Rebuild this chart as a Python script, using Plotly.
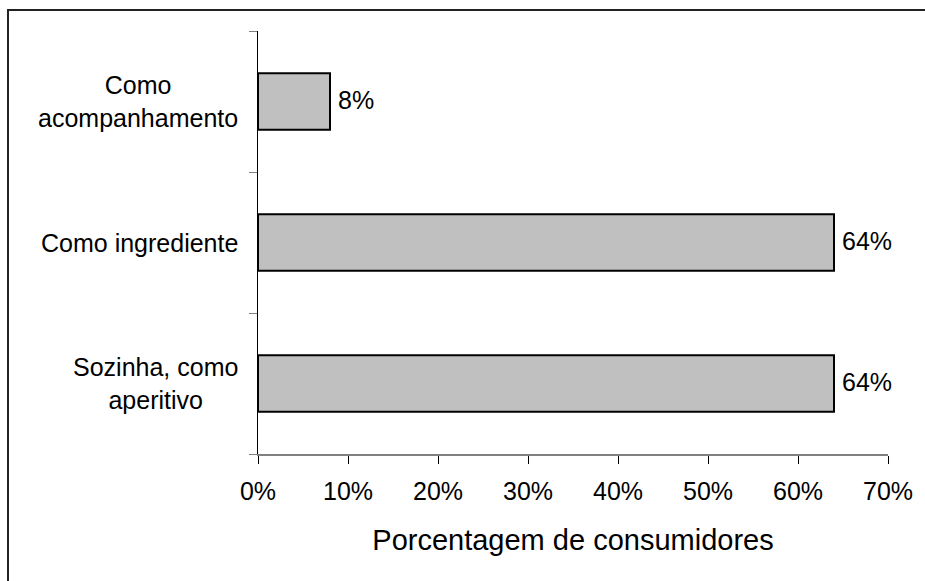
import plotly.graph_objects as go

# Uses of the product, listed bottom to top as they appear on the axis
categories = ["Sozinha, como aperitivo", "Como ingrediente", "Como acompanhamento"]
category_labels = ["Sozinha, como<br>aperitivo", "Como ingrediente", "Como<br>acompanhamento"]
values = [64, 64, 8]
x_ticks = [0, 10, 20, 30, 40, 50, 60, 70]
x_tick_labels = [f"{t}%" for t in x_ticks]

FONT = "Liberation Sans, Arial, sans-serif"
W, H = 925, 581
ML, MR, MT, MB = 258, 37, 31, 127
PW, PH = W - ML - MR, H - MT - MB

fig = go.Figure(
    go.Bar(
        x=values,
        y=categories,
        orientation="h",
        width=0.4,
        marker=dict(color="#c0c0c0", line=dict(color="black", width=2)),
        hoverinfo="skip",
    )
)

# Value labels just past the end of each bar
for cat, v in zip(categories, values):
    fig.add_annotation(
        x=v, xref="x", y=cat, yref="y", text=f"{v}%", showarrow=False,
        xanchor="left", xshift=6, yshift=2,
        font=dict(family=FONT, size=25, color="black"),
    )

# Category names, centred line by line to the left of the axis
for cat, lab in zip(categories, category_labels):
    fig.add_annotation(
        x=-18 / PW, xref="paper", y=cat, yref="y",
        text=lab, showarrow=False, xanchor="right", align="center",
        font=dict(family=FONT, size=25, color="black"),
    )

# Outer frame around the chart area
fig.add_shape(
    type="rect", xref="paper", yref="paper",
    x0=(8 - ML) / PW, x1=(W + 20 - ML) / PW,
    y0=-(H + 20 - MT - PH) / PH, y1=(H - MB - 10) / PH,
    line=dict(color="#222222", width=2), fillcolor="rgba(0,0,0,0)",
)

fig.update_layout(
    width=W, height=H,
    margin=dict(l=ML, r=MR, t=MT, b=MB),
    paper_bgcolor="white", plot_bgcolor="white",
    showlegend=False,
    font=dict(family=FONT, color="black"),
    xaxis=dict(
        range=[0, 70], tickvals=x_ticks, ticktext=x_tick_labels,
        showgrid=False, zeroline=False,
        showline=True, linecolor="#808080", linewidth=2,
        ticks="outside", ticklen=8, tickcolor="black", tickwidth=1,
        ticklabelstandoff=6,
        tickfont=dict(family=FONT, size=25, color="black"),
        title=dict(text="Porcentagem de consumidores", standoff=26,
                   font=dict(family=FONT, size=29, color="black")),
        fixedrange=True,
    ),
    yaxis=dict(
        type="category", categoryorder="array", categoryarray=categories,
        range=[-0.5, 2.5], showticklabels=False, tickson="boundaries",
        showgrid=False, zeroline=False,
        showline=True, linecolor="black", linewidth=1,
        ticks="outside", ticklen=8, tickcolor="#808080", tickwidth=1,
        fixedrange=True,
    ),
)

fig.write_html("out.html")
